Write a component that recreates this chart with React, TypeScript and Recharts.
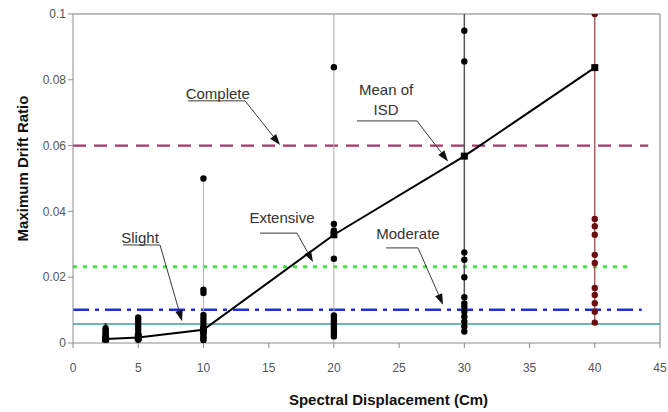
import React from 'react';
import {
  ComposedChart,
  XAxis,
  YAxis,
  Scatter,
  ReferenceLine,
  ReferenceDot,
  Label,
} from 'recharts';

// Spectral displacement groups (cm)
const groupSd = [2.5, 5, 10, 20, 30, 40];

// Maximum drift ratio of each record, per spectral displacement group
const drift2_5 = [0.001, 0.0014, 0.0018, 0.0022, 0.0027, 0.0032, 0.0038, 0.0045];
const drift5 = [0.001, 0.0015, 0.002, 0.0025, 0.003, 0.004, 0.005, 0.006, 0.007, 0.0078];
const drift10 = [0.0008, 0.0013, 0.0018, 0.0024, 0.003, 0.0037, 0.0045, 0.0055, 0.0065, 0.0075, 0.0085, 0.0152, 0.0162, 0.05];
const drift20 = [0.002, 0.0028, 0.0036, 0.0044, 0.0052, 0.006, 0.0068, 0.0076, 0.0084, 0.0256, 0.0342, 0.0362, 0.0838];
const drift30 = [0.0035, 0.005, 0.0065, 0.008, 0.0095, 0.011, 0.012, 0.0139, 0.02, 0.0253, 0.0275, 0.0856, 0.0949];
const drift40 = [0.0062, 0.0095, 0.0121, 0.0146, 0.0167, 0.0243, 0.0268, 0.0329, 0.0355, 0.0377, 0.1];

// Mean inter-storey drift per group
const meanDrift = [0.0012, 0.0017, 0.004, 0.0329, 0.0568, 0.0837];

// Spread line of each group (low / high)
const spreadLow = [0.001, 0.001, 0, 0, 0.0035, 0.0062];
const spreadHigh = [0.006, 0.0085, 0.05, 0.1, 0.1, 0.1];

// Damage state thresholds
const slightLimit = 0.0058;
const moderateLimit = 0.0101;
const extensiveLimit = 0.0232;
const completeLimit = 0.06;

const xTicks = [0, 5, 10, 15, 20, 25, 30, 35, 40, 45];
const yTicks = [0, 0.02, 0.04, 0.06, 0.08, 0.1];

const FONT = '"Liberation Sans", Arial, Helvetica, sans-serif';

const blackGroups = [drift2_5, drift5, drift10, drift20, drift30];
const blackPoints = blackGroups.flatMap((vals, i) => vals.map((y) => ({ x: groupSd[i], y })));
const redPoints = drift40.map((y) => ({ x: groupSd[5], y }));
const meanPoints = groupSd.map((x, i) => ({ x, y: meanDrift[i] }));

const spreadStyle = [
  { stroke: '#222', width: 2 },
  { stroke: '#222', width: 2 },
  { stroke: '#b0b0b0', width: 1 },
  { stroke: '#b0b0b0', width: 1 },
  { stroke: '#555', width: 1.5 },
  { stroke: '#9a3a3a', width: 1.2 },
];

// Callout boxes: text anchor, leader elbow and arrow tip, in chart units
const callouts = [
  { text: ['Complete'], tx: 11.1, ty: 0.0757, x0: 8.82, x1: 13.19, ly: 0.0736, ax: 15.87, ay: 0.0602 },
  { text: ['Mean of', 'ISD'], tx: 24.0, ty: 0.0739, x0: 21.77, x1: 26.37, ly: 0.0675, ax: 28.75, ay: 0.0552 },
  { text: ['Extensive'], tx: 16.02, ty: 0.038, x0: 14.34, x1: 17.17, ly: 0.0334, ax: 18.4, ay: 0.0246 },
  { text: ['Moderate'], tx: 25.68, ty: 0.0334, x0: 24.0, x1: 26.45, ly: 0.0289, ax: 28.37, ay: 0.0116 },
  { text: ['Slight'], tx: 5.14, ty: 0.0322, x0: 3.83, x1: 6.67, ly: 0.0298, ax: 8.36, ay: 0.0066 },
];

const Dot = (fill: string) => (p: any) =>
  p.cx == null ? <g /> : <circle cx={p.cx} cy={p.cy} r={3.2} fill={fill} />;

const MeanSquare = (p: any) =>
  p.cx == null ? <g /> : <rect x={p.cx - 3.5} y={p.cy - 3.5} width={7} height={7} fill="#000" />;

const ArrowShape = (p: any) => {
  const { x1, y1, x2, y2 } = p;
  if (x1 == null) return <g />;
  const ang = Math.atan2(y2 - y1, x2 - x1);
  const len = 11;
  const half = 3.8;
  const bx = x2 - len * Math.cos(ang);
  const by = y2 - len * Math.sin(ang);
  const nx = -Math.sin(ang) * half;
  const ny = Math.cos(ang) * half;
  return (
    <g>
      <line x1={x1} y1={y1} x2={bx} y2={by} stroke="#3a3a3a" strokeWidth={1} />
      <polygon points={`${x2},${y2} ${bx + nx},${by + ny} ${bx - nx},${by - ny}`} fill="#111" />
    </g>
  );
};

const CalloutText = (lines: string[]) => (p: any) => {
  if (p.cx == null) return <g />;
  const lh = 20;
  const top = p.cy - ((lines.length - 1) * lh) / 2;
  return (
    <g>
      {lines.map((t, i) => (
        <text
          key={i}
          x={p.cx}
          y={top + i * lh}
          textAnchor="middle"
          dominantBaseline="central"
          fontSize={15}
          fontFamily={FONT}
          fill="#333"
        >
          {t}
        </text>
      ))}
    </g>
  );
};

const XTitle = (p: any) => {
  const vb = p.viewBox || { x: 73, y: 343, width: 587, height: 30 };
  return (
    <text
      x={vb.x + vb.width / 2 + 22}
      y={vb.y + 62}
      textAnchor="middle"
      fontSize={15}
      fontWeight="bold"
      fontFamily={FONT}
      fill="#111"
    >
      Spectral Displacement (Cm)
    </text>
  );
};

const YTitle = (p: any) => {
  const vb = p.viewBox || { x: 13, y: 14, width: 60, height: 329 };
  const cx = 22;
  const cy = vb.y + vb.height / 2 - 10;
  return (
    <text
      x={cx}
      y={cy}
      transform={`rotate(-90 ${cx} ${cy})`}
      textAnchor="middle"
      dominantBaseline="central"
      fontSize={15}
      fontWeight="bold"
      fontFamily={FONT}
      fill="#111"
    >
      Maximum Drift Ratio
    </text>
  );
};

export default function App() {
  return (
    <div style={{ position: 'absolute', left: 0, top: 0, width: 668, height: 412, background: '#fff' }}>
      <ComposedChart
        width={668}
        height={412}
        margin={{ top: 14, right: 8, bottom: 39, left: 13 }}
        style={{ fontFamily: FONT }}
      >
        <XAxis
          type="number"
          dataKey="x"
          domain={[0, 45]}
          ticks={xTicks}
          interval={0}
          height={30}
          allowDataOverflow
          stroke="#8c8c8c"
          tickSize={5}
          tickMargin={15}
          tick={{ fill: '#555', fontSize: 12, fontFamily: FONT }}
        >
          <Label content={XTitle} />
        </XAxis>
        <YAxis
          type="number"
          dataKey="y"
          domain={[0, 0.1]}
          ticks={yTicks}
          interval={0}
          width={60}
          allowDataOverflow
          stroke="#8c8c8c"
          tickSize={5}
          tickMargin={2}
          tickFormatter={(v: number) => (v === 0 ? '0' : String(v))}
          tick={{ fill: '#555', fontSize: 12, fontFamily: FONT }}
        >
          <Label content={YTitle} />
        </YAxis>

        {/* plot frame, top and right */}
        <ReferenceLine segment={[{ x: 0, y: 0.1 }, { x: 45, y: 0.1 }]} stroke="#a8a8a8" strokeWidth={1.5} ifOverflow="visible" />
        <ReferenceLine segment={[{ x: 45, y: 0 }, { x: 45, y: 0.1 }]} stroke="#a8a8a8" strokeWidth={1.5} ifOverflow="visible" />

        {/* damage state limits */}
        <ReferenceLine segment={[{ x: 0, y: completeLimit }, { x: 44.1, y: completeLimit }]} stroke="#a3386a" strokeWidth={2.2} strokeDasharray="13 8" ifOverflow="visible" />
        <ReferenceLine segment={[{ x: 0, y: extensiveLimit }, { x: 42.8, y: extensiveLimit }]} stroke="#3ee63e" strokeWidth={3} strokeDasharray="4 6" ifOverflow="visible" />
        <ReferenceLine segment={[{ x: 0, y: moderateLimit }, { x: 43.6, y: moderateLimit }]} stroke="#1f2de0" strokeWidth={2.6} strokeDasharray="16 6 4 6" ifOverflow="visible" />
        <ReferenceLine segment={[{ x: 0, y: slightLimit }, { x: 45, y: slightLimit }]} stroke="#3d9d98" strokeWidth={1.5} ifOverflow="visible" />

        {/* spread of each group */}
        {groupSd.map((x, i) => (
          <ReferenceLine
            key={'spread' + i}
            segment={[{ x, y: spreadLow[i] }, { x, y: spreadHigh[i] }]}
            stroke={spreadStyle[i].stroke}
            strokeWidth={spreadStyle[i].width}
            ifOverflow="visible"
          />
        ))}

        <Scatter data={blackPoints} shape={Dot('#000')} isAnimationActive={false} />
        <Scatter data={redPoints} shape={Dot('#6a0d10')} isAnimationActive={false} />
        <Scatter
          data={meanPoints}
          shape={MeanSquare}
          line={{ stroke: '#000', strokeWidth: 2 }}
          isAnimationActive={false}
        />

        {/* callouts */}
        {callouts.map((c, i) => (
          <ReferenceLine
            key={'lead' + i}
            segment={[{ x: c.x0, y: c.ly }, { x: c.x1, y: c.ly }]}
            stroke="#3a3a3a"
            strokeWidth={1}
            ifOverflow="visible"
          />
        ))}
        {callouts.map((c, i) => (
          <ReferenceLine
            key={'arrow' + i}
            segment={[{ x: c.x1, y: c.ly }, { x: c.ax, y: c.ay }]}
            shape={ArrowShape}
            ifOverflow="visible"
          />
        ))}
        {callouts.map((c, i) => (
          <ReferenceDot
            key={'text' + i}
            x={c.tx}
            y={c.ty}
            r={0}
            shape={CalloutText(c.text)}
            ifOverflow="visible"
          />
        ))}
      </ComposedChart>
    </div>
  );
}
